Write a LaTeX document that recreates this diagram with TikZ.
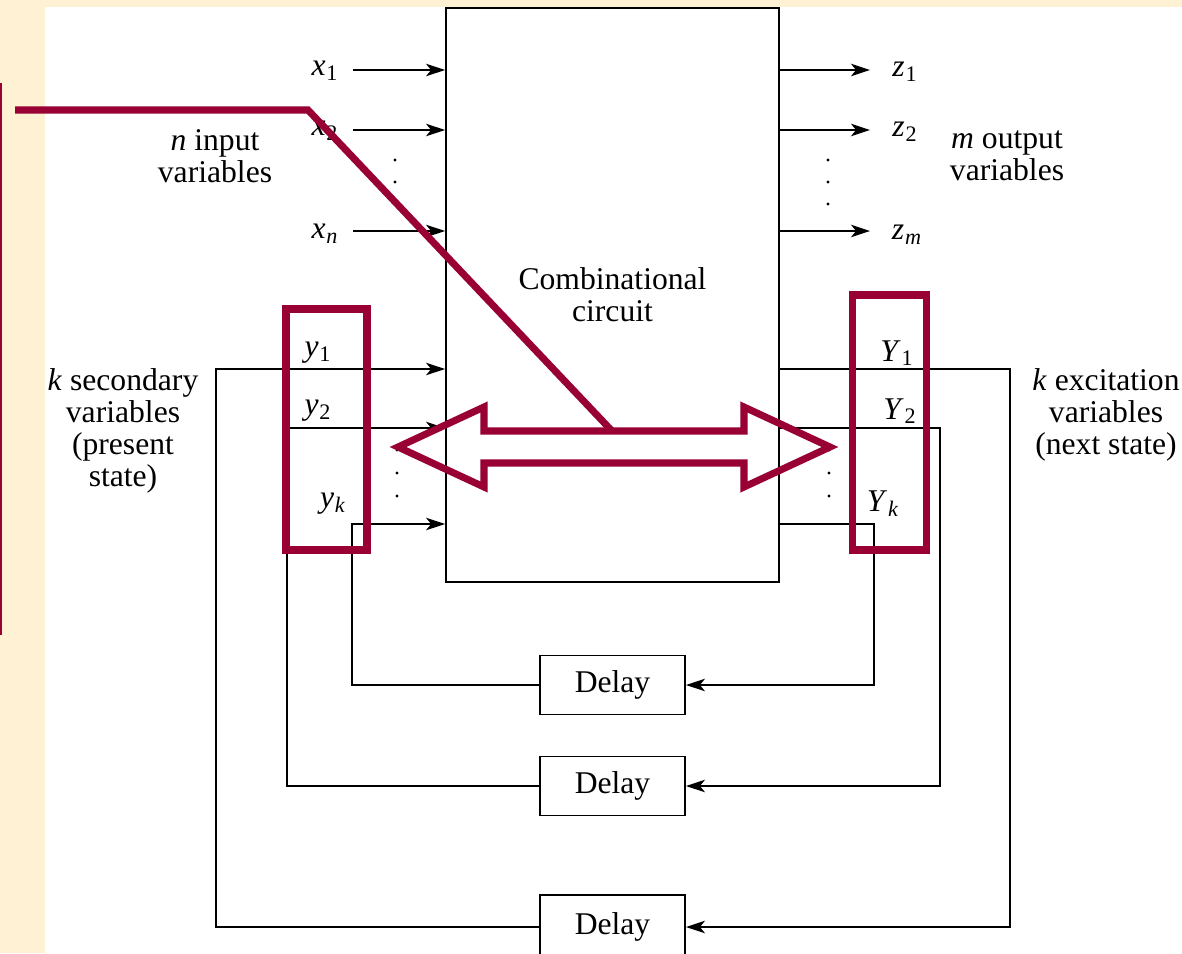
\documentclass[tikz,border=0pt]{standalone}
\usepackage{fontspec}
\setmainfont{Liberation Serif}
\usetikzlibrary{arrows.meta}
\definecolor{maroon}{RGB}{153,0,51}
\definecolor{cream}{RGB}{254,241,212}
\newcommand{\vsub}[2]{\textit{#1}\kern0.5pt\textsubscript{#2}}

\begin{document}
\begin{tikzpicture}[
    x=0.02cm, y=-0.02cm,
    every node/.style={font=\fontsize{18}{18.2}\selectfont},
    block/.style={rectangle, draw, line width=1.1pt, inner sep=0pt, align=center},
    delaybox/.style={block, minimum width=2.9cm, minimum height=1.18cm},
    wire/.style={line width=0.75pt},
    arrow/.style={wire, -{Stealth[length=3.8mm, width=2.5mm, inset=1mm]}},
    hilite/.style={draw=maroon, line width=4pt, line join=miter},
    dot/.style={fill=black},
]

% slide background
\fill[cream] (0,0) rectangle (1182,953);
\fill[white] (45,7) rectangle (1182,953);
\useasboundingbox (0,0) rectangle (1182,953);

% main block and delays
\node[block, minimum width=6.66cm, minimum height=11.48cm] (comb) at (612.5,295) {Combinational\\circuit};
\node[delaybox] (d1) at (612.5,685) {Delay};
\node[delaybox] (d2) at (612.5,786) {Delay};
\node[delaybox, minimum height=1.28cm] (d3) at (612.5,927) {Delay};

% inputs
\node (x1) at (325,71) {\vsub{x}{1}};
\node (x2) at (325,131) {\vsub{x}{2}};
\node (xn) at (325,234) {\vsub{x}{\textit{n}}};
\node[align=center] (inlbl) at (215,156) {\textit{n} input\\variables};
\coordinate (xin1) at (353,70);
\coordinate (xin2) at (353,130);
\coordinate (xinn) at (353,231);
\foreach \c in {xin1,xin2,xinn}
    \draw[arrow] (\c) -- (\c -| comb.west);

% outputs
\node (z1) at (905,72) {\vsub{z}{1}};
\node (z2) at (905,132) {\vsub{z}{2}};
\node (zm) at (907,235) {\vsub{z}{\textit{m}}};
\node[align=center] (outlbl) at (1007,156) {\textit{m} output\\variables};
\coordinate (zout1) at (870,70);
\coordinate (zout2) at (870,130);
\coordinate (zoutm) at (870,231);
\foreach \c in {zout1,zout2,zoutm}
    \draw[arrow] (\c -| comb.east) -- (\c);

% state variables
\node (y1) at (318,353) {\vsub{y}{1}};
\node (y2) at (318,411) {\vsub{y}{2}};
\node (yk) at (333,504) {\vsub{y}{\textit{k}}};
\node (Y1) at (897,353) {\vsub{Y}{1}};
\node (Y2) at (900,411) {\vsub{Y}{2}};
\node (Yk) at (883,504) {\vsub{Y}{\textit{k}}};
\node[align=center] (seclbl) at (123,431) {\textit{k} secondary\\variables\\(present\\state)};
\node[align=center] (exclbl) at (1106,415) {\textit{k} excitation\\variables\\(next state)};

\coordinate (lft1) at (216,369);
\coordinate (lft2) at (287,428);
\coordinate (lftk) at (352,524);
\coordinate (rgt1) at (1010,369);
\coordinate (rgt2) at (940,428);
\coordinate (rgtk) at (874,524);

% feedback loops
\draw[arrow] (d1.west) -| (lftk) -- (lftk -| comb.west);
\draw[arrow] (d2.west) -| (lft2) -- (lft2 -| comb.west);
\draw[arrow] (d3.west) -| (lft1) -- (lft1 -| comb.west);
\draw[arrow] (rgtk -| comb.east) -- (rgtk) |- (d1.east);
\draw[arrow] (rgt2 -| comb.east) -- (rgt2) |- (d2.east);
\draw[arrow] (rgt1 -| comb.east) -- (rgt1) |- (d3.east);

% dots
\foreach \yy in {160,182,204} {
    \fill[dot] (395,\yy) circle (0.9pt);
    \fill[dot] (828,\yy) circle (0.9pt);
}
\foreach \yy in {450,473,496} {
    \fill[dot] (397,\yy) circle (0.9pt);
    \fill[dot] (829,\yy) circle (0.9pt);
}

% red markup
\draw[maroon, line width=1.2pt] (1,83) -- (1,635);
\draw[hilite] (15,110) -- (308,110) -- (612,431);
\draw[hilite] (286,309) rectangle (367,550);
\draw[hilite] (852,295) rectangle (926,550);
\draw[hilite] (398,447) -- (484,407) -- (484,431) -- (744,431) -- (744,407) -- (830,447)
    -- (744,487) -- (744,463) -- (484,463) -- (484,487) -- cycle;

\end{tikzpicture}
\end{document}
